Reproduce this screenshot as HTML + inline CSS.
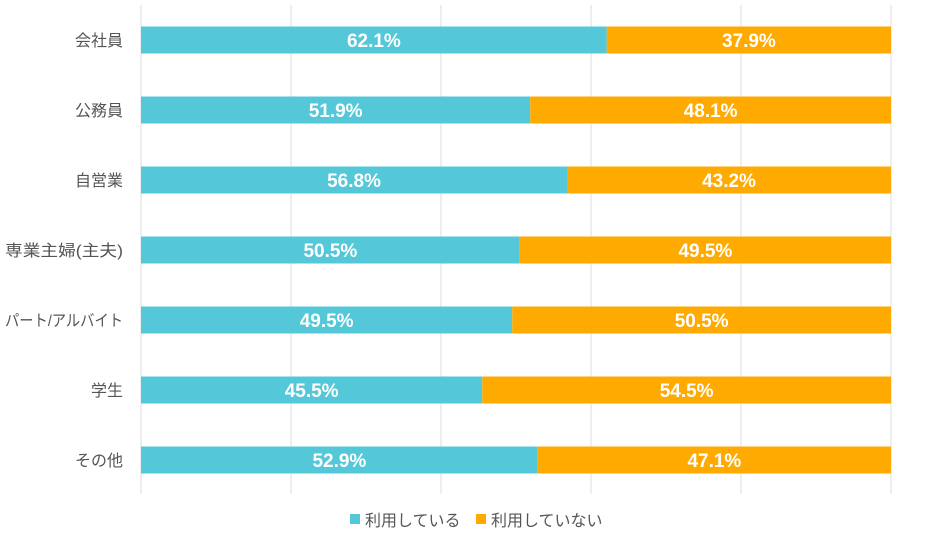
<!DOCTYPE html>
<html><head><meta charset="utf-8"><style>
body{margin:0;background:#fff;}
svg text{font-family:"Liberation Sans","Noto Sans CJK JP",sans-serif;}
</style></head><body>
<svg width="940" height="540" viewBox="0 0 940 540">
<g id="grid"></g><g id="bars"></g><g id="labels"></g>
<g>
<rect x="350" y="514" width="10" height="10" fill="#54c8d8"/>
<text x="365" y="526" font-size="16" fill="#555">利用している</text>
<rect x="476" y="514" width="10" height="10" fill="#ffaa00"/>
<text x="491" y="526" font-size="16" fill="#555">利用していない</text>
</g>
</svg>
<script>
const categories=["会社員","公務員","自営業","専業主婦(主夫)","パート/アルバイト","学生","その他"];
const using=[62.1,51.9,56.8,50.5,49.5,45.5,52.9];
const notUsing=[37.9,48.1,43.2,49.5,50.5,54.5,47.1];
const ticks=[0,20,40,60,80,100];
const NS="http://www.w3.org/2000/svg";
const x0=141,x1=891,top0=5,rowH=70,barH=27;
const xs=v=>x0+(x1-x0)*v/100;
const yc=i=>40+i*rowH;
function mk(t,a,p){const e=document.createElementNS(NS,t);for(const k in a)e.setAttribute(k,a[k]);p.appendChild(e);return e;}
const g=document.getElementById('grid'),b=document.getElementById('bars'),l=document.getElementById('labels');
ticks.forEach(t=>{const e=mk('line',{x1:xs(t),x2:xs(t),y1:top0,y2:494,stroke:'#dedede','stroke-width':1},g);

});
categories.forEach((c,i)=>{
 const y=yc(i)-barH/2;
 const r1=mk('rect',{x:xs(0),y:y,width:xs(using[i])-xs(0),height:barH,fill:'#54c8d8'},b);
 
 
 const r2=mk('rect',{x:xs(using[i]),y:y,width:xs(using[i]+notUsing[i])-xs(using[i]),height:barH,fill:'#ffaa00'},b);
 
 
 const t1=mk('text',{x:(xs(0)+xs(using[i]))/2,y:yc(i)+7,'text-anchor':'middle','font-size':19,'font-weight':'bold',fill:'#fff'},l);
 t1.textContent=using[i].toFixed(1)+'%';
 
 
 const t2=mk('text',{x:(xs(using[i])+xs(using[i]+notUsing[i]))/2,y:yc(i)+7,'text-anchor':'middle','font-size':19,'font-weight':'bold',fill:'#fff'},l);
 t2.textContent=notUsing[i].toFixed(1)+'%';
 
 
 const t3=mk('text',{x:123,y:yc(i)+6,'text-anchor':'end','font-size':16,fill:'#555'},l);
 t3.textContent=c;
 if(c.length>6){t3.setAttribute('textLength',118);t3.setAttribute('lengthAdjust','spacingAndGlyphs');}
 
 
});
</script>
</body></html>
